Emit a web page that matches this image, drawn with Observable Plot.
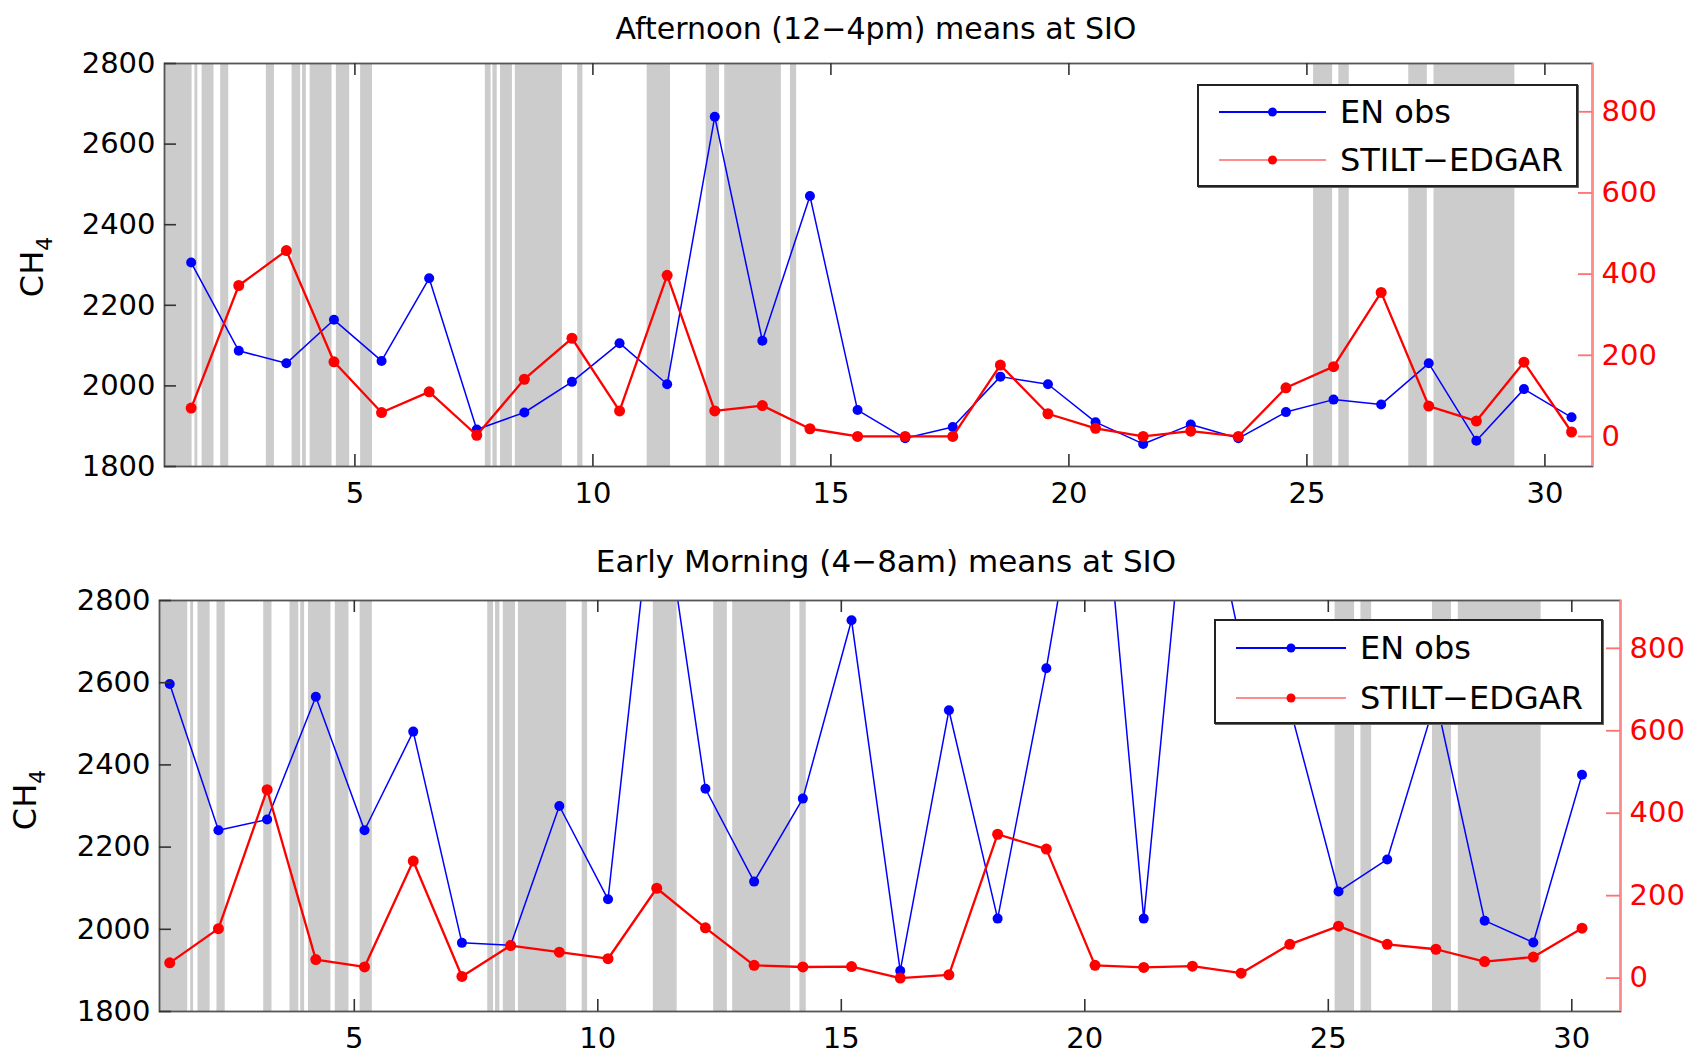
<!DOCTYPE html>
<html>
<head>
<meta charset="utf-8">
<script src="https://cdn.jsdelivr.net/npm/d3@7"></script>
<script src="https://cdn.jsdelivr.net/npm/@observablehq/plot@0.6"></script>
<style>
  body { margin: 0; background: #fff; }
  #fig { position: relative; width: 1688px; height: 1056px; overflow: hidden; background: #fff;
         font-family: "DejaVu Sans", sans-serif; color: #000; }
  .panel { position: absolute; left: 0; }
  .title { position: absolute; line-height: 30px; white-space: nowrap; transform: translateX(-50%); }
  .ylab { position: absolute; width: 200px; height: 40px; line-height: 40px; font-size: 32px; text-align: center;
          transform: translate(-50%, -50%) rotate(-90deg); white-space: nowrap; }
  .ylab sub { font-size: 22px; vertical-align: -9px; }
  .legend { position: absolute; background: #fff; border: 2px solid #222; box-sizing: border-box; z-index: 5;
            box-shadow: 1px 1px 0 #666; }
  .row { position: absolute; height: 44px; display: flex; align-items: center; }
  .row span { font-size: 32px; line-height: 44px; white-space: nowrap; }
</style>
</head>
<body>
<div id="fig">
  <div class="title" style="left:876px; top:14px; font-size:30px;">Afternoon (12−4pm) means at SIO</div>
  <div class="title" style="left:886px; top:546px; font-size:31px;">Early Morning (4−8am) means at SIO</div>
  <div class="ylab" style="left:32px; top:267px;">CH<sub>4</sub></div>
  <div class="ylab" style="left:25px; top:800px;">CH<sub>4</sub></div>
  <div id="top" class="panel" style="top:0px;"></div>
  <div id="bottom" class="panel" style="top:520px;"></div>
  <div id="legTop" class="legend" style="left:1197px; top:84px; width:381px; height:103px;"></div>
  <div id="legBot" class="legend" style="left:1214px; top:619px; width:389px; height:105px;"></div>
</div>
<script>
// ---------------- data ----------------
const days = [1,2,3,4,5,6,7,8,9,10,11,12,13,14,15,16,17,18,19,20,21,22,23,24,25,26,27,28,29,30];
const afternoonOffset = 0.56;   // mean time of 12-4pm window (fraction of day)
const morningOffset = 0.21;     // mean time of 4-8am window

// EN obs (left axis, CH4)
const afternoonObs = [2306, 2087, 2056, 2164, 2062, 2267, 1892, 1934, 2010, 2106,
                      2004, 2668, 2112, 2471, 1940, 1870, 1898, 2023, 2004, 1910,
                      1856, 1904, 1870, 1935, 1966, 1954, 2056, 1864, 1992, 1922];
// STILT-EDGAR (right axis)
const afternoonModel = [70, 372, 458, 184, 59, 110, 3, 141, 242, 63,
                        397, 63, 76, 19, 0, 0, 0, 176, 56, 20,
                        0, 13, 0, 120, 172, 355, 75, 38, 183, 11];

const morningObs = [2597, 2241, 2267, 2566, 2241, 2481, 1967, 1961, 2300, 2073,
                    3150, 2342, 2116, 2318, 2752, 1899, 2533, 2026, 2635, 3330,
                    2026, 3250, 2690, 2540, 2092, 2170, 2560, 2021, 1968, 2376];
const morningModel = [37, 120, 457, 45, 27, 284, 4, 79, 63, 47,
                      218, 122, 31, 27, 28, 0, 8, 349, 313, 31,
                      26, 29, 12, 82, 126, 82, 70, 40, 51, 121];

// shaded periods (day of month)
const bands = [[1.00,1.58],[1.64,1.70],[1.79,2.04],[2.18,2.35],[3.14,3.31],[3.68,3.86],[3.90,3.98],
               [4.06,4.52],[4.61,4.89],[5.12,5.37],[7.74,7.86],[7.90,7.99],[8.06,8.31],[8.37,9.36],
               [9.68,9.79],[11.14,11.63],[12.38,12.66],[12.77,13.96],[14.15,14.28],
               [25.14,25.54],[25.67,25.89],[27.14,27.53],[27.67,29.37]];

const xDomain = [1, 31];
const xTicks = [5, 10, 15, 20, 25, 30];
const leftDomain = [1800, 2800];
const leftTicks = [1800, 2000, 2200, 2400, 2600, 2800];
const rightTicks = [0, 200, 400, 600, 800];
const rightDomainTop = [-74, 919];
const rightDomainBottom = [-81, 916];

// ---------------- drawing ----------------
const W = 1688;
function panel({obs, model, offset, rDomain, height, mt, mb, ml, mr, xPad}) {
  const toLeft = v => leftDomain[0] + (v - rDomain[0]) * (leftDomain[1] - leftDomain[0]) / (rDomain[1] - rDomain[0]);
  const fromLeft = y => rDomain[0] + (y - leftDomain[0]) * (rDomain[1] - rDomain[0]) / (leftDomain[1] - leftDomain[0]);
  const obsData = days.map((d, i) => ({x: d + offset, v: obs[i]}));
  const modData = days.map((d, i) => ({x: d + offset, v: toLeft(model[i])}));
  const fw = W - ml - mr, fh = height - mt - mb;
  return Plot.plot({
    width: W, height,
    marginTop: mt, marginBottom: mb, marginLeft: ml, marginRight: mr,
    style: {fontFamily: "DejaVu Sans", fontSize: "29px", background: "transparent", color: "#000", overflow: "visible"},
    x: {domain: xDomain, label: null},
    y: {domain: leftDomain, label: null},
    marks: [
      Plot.rect(bands, {x1: d => d[0], x2: d => d[1], fill: "#cccccc"}),
      Plot.line(obsData, {x: "x", y: "v", stroke: "#0000ff", strokeWidth: 1.5, clip: true}),
      Plot.dot(obsData, {x: "x", y: "v", r: 5, fill: "#0000ff", clip: true}),
      Plot.line(modData, {x: "x", y: "v", stroke: "#ff0000", strokeWidth: 2.3, clip: true}),
      Plot.dot(modData, {x: "x", y: "v", r: 5.5, fill: "#ff0000", clip: true}),
      Plot.frame({stroke: "#555", strokeWidth: 1.8}),
      Plot.ruleX([xDomain[1]], {stroke: "#ff8c8c", strokeWidth: 2}),
      Plot.ruleX(xTicks, {x: d => d, insetTop: fh - 12, stroke: "#333", strokeWidth: 1.6}),
      Plot.ruleX(xTicks, {x: d => d, insetBottom: fh - 12, stroke: "#333", strokeWidth: 1.6}),
      Plot.ruleY(leftTicks, {y: d => d, insetRight: fw - 12, stroke: "#333", strokeWidth: 1.6}),
      Plot.ruleY(rightTicks, {y: d => toLeft(d), insetLeft: fw - 14, stroke: "#ff7070", strokeWidth: 1.8}),
      Plot.axisX(xTicks, {tickSize: 0, tickPadding: xPad, label: null, tickFormat: d => String(d)}),
      Plot.axisY(leftTicks, {tickSize: 0, tickPadding: 9, label: null, tickFormat: d => String(d)}),
      Plot.axisY(rightTicks.map(toLeft), {anchor: "right", tickSize: 0, tickPadding: 9, label: null,
        color: "#ff0000", tickFormat: d => String(Math.round(fromLeft(d)))})
    ]
  });
}

document.getElementById("top").append(panel({
  obs: afternoonObs, model: afternoonModel, offset: afternoonOffset, rDomain: rightDomainTop,
  height: 520, mt: 63, mb: 54, ml: 164, mr: 96, xPad: 16
}));
document.getElementById("bottom").append(panel({
  obs: morningObs, model: morningModel, offset: morningOffset, rDomain: rightDomainBottom,
  height: 536, mt: 80, mb: 45, ml: 159, mr: 68, xPad: 16
}));

// ---------------- legends ----------------
const legendItems = [
  {label: "EN obs", line: "#0000ff", dot: "#0000ff"},
  {label: "STILT−EDGAR", line: "#ff8c8c", dot: "#ff0000"}
];
function buildLegend(id, rowTops, sampleLeft, sampleW, textLeft) {
  const box = document.getElementById(id);
  legendItems.forEach((it, i) => {
    const row = document.createElement("div");
    row.className = "row";
    row.style.top = rowTops[i] + "px";
    row.style.left = sampleLeft + "px";
    row.innerHTML = `<svg width="${sampleW}" height="44" style="display:block">
        <line x1="0" x2="${sampleW}" y1="22" y2="22" stroke="${it.line}" stroke-width="2"/>
        <circle cx="${sampleW / 2}" cy="22" r="4.5" fill="${it.dot}"/></svg>
      <span style="margin-left:${textLeft - sampleLeft - sampleW}px">${it.label}</span>`;
    box.append(row);
  });
}
buildLegend("legTop", [4, 52], 20, 107, 141);
buildLegend("legBot", [5, 55], 20, 110, 144);
</script>
</body>
</html>
